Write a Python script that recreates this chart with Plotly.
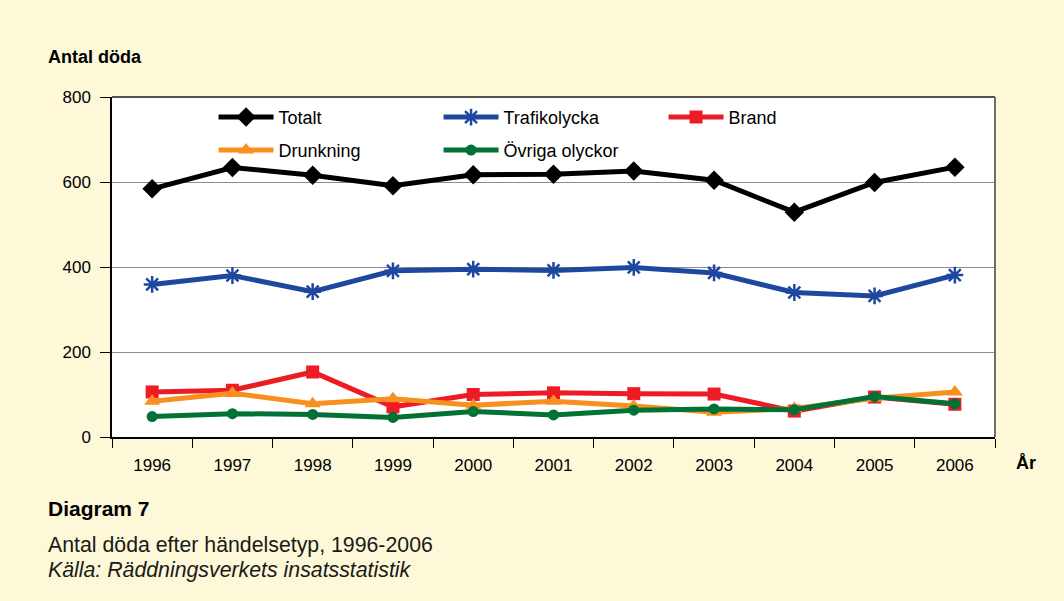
import plotly.graph_objects as go

years = ["1996", "1997", "1998", "1999", "2000", "2001", "2002", "2003", "2004", "2005", "2006"]
totalt = [584, 634, 616, 591, 617, 618, 626, 604, 529, 599, 635]
trafikolycka = [359, 380, 342, 391, 395, 392, 399, 386, 340, 332, 381]
brand = [106, 110, 153, 71, 100, 104, 102, 101, 61, 94, 77]
drunkning = [84, 103, 78, 90, 75, 84, 73, 58, 67, 91, 106]
ovriga = [48, 55, 53, 46, 60, 52, 63, 66, 64, 95, 78]

y_ticks = [0, 200, 400, 600, 800]

BG = "#FDF8D8"
FONT = "Liberation Sans, Arial, sans-serif"

series = [
    ("Totalt", totalt, "#000000", "diamond", 15, "legend"),
    ("Trafikolycka", trafikolycka, "#1E48A0", "asterisk-open", 14, "legend"),
    ("Brand", brand, "#ED1C24", "square", 13, "legend"),
    ("Drunkning", drunkning, "#F7901E", "triangle-up", 14, "legend2"),
    ("Övriga olyckor", ovriga, "#007236", "circle", 11, "legend2"),
]

fig = go.Figure()
for name, vals, color, sym, size, leg in series:
    fig.add_trace(go.Scatter(
        x=years, y=vals, name=name, mode="lines+markers",
        line=dict(color=color, width=5),
        marker=dict(symbol=sym, size=size, color=color,
                    line=dict(color=color, width=2.5 if sym == "asterisk-open" else 0)),
        legend=leg,
    ))

legend_style = dict(
    orientation="h", xanchor="left", yanchor="middle",
    bgcolor="rgba(0,0,0,0)", font=dict(family=FONT, size=18, color="#000000"),
    entrywidth=155, entrywidthmode="pixels", itemwidth=55,
)

fig.update_layout(
    width=1064, height=601,
    paper_bgcolor=BG, plot_bgcolor="#FFFFFF",
    margin=dict(l=112, r=69, t=97, b=164),
    font=dict(family=FONT, size=17, color="#000000"),
    legend=dict(x=0.115, y=0.94, **legend_style),
    legend2=dict(x=0.115, y=0.843, **legend_style),
    xaxis=dict(
        type="category", range=[-0.5, 10.5], tickson="boundaries", ticks="outside",
        ticklen=9, tickcolor="#000000", showline=True, linecolor="#000000",
        linewidth=1.5, showgrid=False, tickfont=dict(size=17), ticklabelstandoff=12,
    ),
    yaxis=dict(
        range=[0, 800], tickvals=y_ticks, ticks="outside", ticklen=10,
        tickcolor="#000000", showline=True, linecolor="#000000", linewidth=1.5,
        showgrid=True, gridcolor="#8C8C8C", gridwidth=1, zeroline=False,
        tickfont=dict(size=17), ticklabelstandoff=6,
    ),
    shapes=[
        # plot frame: dark top edge, grey right edge
        dict(type="line", xref="paper", yref="paper", x0=0, x1=1, y0=1, y1=1,
             line=dict(color="#1A1A1A", width=1.5)),
        dict(type="line", xref="paper", yref="paper", x0=1, x1=1, y0=0, y1=1,
             line=dict(color="#6E6E6E", width=2)),
    ],
    annotations=[
        dict(text="<b>Antal döda</b>", xref="paper", yref="paper", x=-0.0745, y=1.117,
             xanchor="left", yanchor="middle", showarrow=False, font=dict(size=18)),
        dict(text="<b>År</b>", xref="paper", yref="paper", x=1.0215, y=-0.075,
             xanchor="left", yanchor="middle", showarrow=False, font=dict(size=18)),
        dict(text="<b>Diagram 7</b>", xref="paper", yref="paper", x=-0.0745, y=-0.21,
             xanchor="left", yanchor="middle", showarrow=False, font=dict(size=21)),
        dict(text="Antal döda efter händelsetyp, 1996-2006", xref="paper", yref="paper",
             x=-0.0745, y=-0.318, xanchor="left", yanchor="middle", showarrow=False,
             font=dict(size=21.3, color="#1A1A1A")),
        dict(text="<i>Källa: Räddningsverkets insatsstatistik</i>", xref="paper", yref="paper",
             x=-0.0745, y=-0.392, xanchor="left", yanchor="middle", showarrow=False,
             font=dict(size=21.3, color="#1A1A1A")),
    ],
)

fig.write_html("out.html")
